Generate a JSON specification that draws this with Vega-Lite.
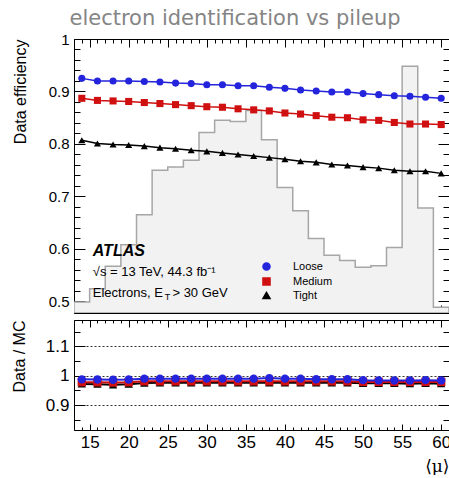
{
  "$schema": "https://vega.github.io/schema/vega-lite/v6.json",
  "padding": {"left": 10, "top": 7, "right": 0, "bottom": 0},
  "title": {"text": "electron identification vs pileup", "fontSize": 21, "font": "DejaVu Sans", "fontWeight": "normal", "color": "#858585", "anchor": "middle", "offset": 3, "dx": 4},
  "config": {
    "view": {"stroke": "#000", "strokeWidth": 1},
    "font": "Liberation Sans",
    "axis": {"domainColor": "#000", "tickColor": "#000", "labelColor": "#000", "titleColor": "#000", "grid": false, "titleFontWeight": "normal", "labelFont": "Liberation Sans", "titleFont": "Liberation Sans", "domainWidth": 1, "tickWidth": 1, "labelOverlap": false}
  },
  "datasets": {
    "hist": [
      {"edge": 13, "hist": 0.499}, {"edge": 15, "hist": 0.524}, {"edge": 17, "hist": 0.567}, {"edge": 19, "hist": 0.608},
      {"edge": 21, "hist": 0.665}, {"edge": 23, "hist": 0.750}, {"edge": 25, "hist": 0.756}, {"edge": 27, "hist": 0.769},
      {"edge": 29, "hist": 0.822}, {"edge": 31, "hist": 0.845}, {"edge": 33, "hist": 0.843}, {"edge": 35, "hist": 0.864},
      {"edge": 37, "hist": 0.808}, {"edge": 39, "hist": 0.717}, {"edge": 41, "hist": 0.673}, {"edge": 43, "hist": 0.620},
      {"edge": 45, "hist": 0.588}, {"edge": 47, "hist": 0.578}, {"edge": 49, "hist": 0.565}, {"edge": 51, "hist": 0.568},
      {"edge": 53, "hist": 0.603}, {"edge": 55, "hist": 0.948}, {"edge": 57, "hist": 0.678}, {"edge": 59, "hist": 0.489},
      {"edge": 61, "hist": 0.489}
    ],
    "eff": [
      {"mu": 14, "series": "Tight", "eff": 0.807, "ratio": 0.972},
      {"mu": 16, "series": "Tight", "eff": 0.801, "ratio": 0.971},
      {"mu": 18, "series": "Tight", "eff": 0.799, "ratio": 0.969},
      {"mu": 20, "series": "Tight", "eff": 0.798, "ratio": 0.971},
      {"mu": 22, "series": "Tight", "eff": 0.796, "ratio": 0.975},
      {"mu": 24, "series": "Tight", "eff": 0.793, "ratio": 0.976},
      {"mu": 26, "series": "Tight", "eff": 0.791, "ratio": 0.976},
      {"mu": 28, "series": "Tight", "eff": 0.788, "ratio": 0.976},
      {"mu": 30, "series": "Tight", "eff": 0.786, "ratio": 0.976},
      {"mu": 32, "series": "Tight", "eff": 0.783, "ratio": 0.976},
      {"mu": 34, "series": "Tight", "eff": 0.780, "ratio": 0.976},
      {"mu": 36, "series": "Tight", "eff": 0.777, "ratio": 0.976},
      {"mu": 38, "series": "Tight", "eff": 0.774, "ratio": 0.976},
      {"mu": 40, "series": "Tight", "eff": 0.771, "ratio": 0.976},
      {"mu": 42, "series": "Tight", "eff": 0.767, "ratio": 0.976},
      {"mu": 44, "series": "Tight", "eff": 0.765, "ratio": 0.976},
      {"mu": 46, "series": "Tight", "eff": 0.761, "ratio": 0.976},
      {"mu": 48, "series": "Tight", "eff": 0.759, "ratio": 0.976},
      {"mu": 50, "series": "Tight", "eff": 0.756, "ratio": 0.974},
      {"mu": 52, "series": "Tight", "eff": 0.754, "ratio": 0.974},
      {"mu": 54, "series": "Tight", "eff": 0.750, "ratio": 0.974},
      {"mu": 56, "series": "Tight", "eff": 0.748, "ratio": 0.973},
      {"mu": 58, "series": "Tight", "eff": 0.748, "ratio": 0.974},
      {"mu": 60, "series": "Tight", "eff": 0.744, "ratio": 0.973},
      {"mu": 14, "series": "Medium", "eff": 0.887, "ratio": 0.978},
      {"mu": 16, "series": "Medium", "eff": 0.883, "ratio": 0.978},
      {"mu": 18, "series": "Medium", "eff": 0.882, "ratio": 0.977},
      {"mu": 20, "series": "Medium", "eff": 0.881, "ratio": 0.978},
      {"mu": 22, "series": "Medium", "eff": 0.879, "ratio": 0.981},
      {"mu": 24, "series": "Medium", "eff": 0.877, "ratio": 0.981},
      {"mu": 26, "series": "Medium", "eff": 0.875, "ratio": 0.981},
      {"mu": 28, "series": "Medium", "eff": 0.873, "ratio": 0.981},
      {"mu": 30, "series": "Medium", "eff": 0.871, "ratio": 0.981},
      {"mu": 32, "series": "Medium", "eff": 0.870, "ratio": 0.981},
      {"mu": 34, "series": "Medium", "eff": 0.867, "ratio": 0.981},
      {"mu": 36, "series": "Medium", "eff": 0.865, "ratio": 0.981},
      {"mu": 38, "series": "Medium", "eff": 0.863, "ratio": 0.981},
      {"mu": 40, "series": "Medium", "eff": 0.859, "ratio": 0.981},
      {"mu": 42, "series": "Medium", "eff": 0.857, "ratio": 0.981},
      {"mu": 44, "series": "Medium", "eff": 0.854, "ratio": 0.981},
      {"mu": 46, "series": "Medium", "eff": 0.851, "ratio": 0.981},
      {"mu": 48, "series": "Medium", "eff": 0.850, "ratio": 0.981},
      {"mu": 50, "series": "Medium", "eff": 0.846, "ratio": 0.979},
      {"mu": 52, "series": "Medium", "eff": 0.845, "ratio": 0.979},
      {"mu": 54, "series": "Medium", "eff": 0.841, "ratio": 0.979},
      {"mu": 56, "series": "Medium", "eff": 0.838, "ratio": 0.979},
      {"mu": 58, "series": "Medium", "eff": 0.838, "ratio": 0.979},
      {"mu": 60, "series": "Medium", "eff": 0.837, "ratio": 0.979},
      {"mu": 14, "series": "Loose", "eff": 0.925, "ratio": 0.9876},
      {"mu": 16, "series": "Loose", "eff": 0.920, "ratio": 0.9873},
      {"mu": 18, "series": "Loose", "eff": 0.920, "ratio": 0.9865},
      {"mu": 20, "series": "Loose", "eff": 0.920, "ratio": 0.9873},
      {"mu": 22, "series": "Loose", "eff": 0.919, "ratio": 0.990},
      {"mu": 24, "series": "Loose", "eff": 0.918, "ratio": 0.990},
      {"mu": 26, "series": "Loose", "eff": 0.916, "ratio": 0.990},
      {"mu": 28, "series": "Loose", "eff": 0.915, "ratio": 0.990},
      {"mu": 30, "series": "Loose", "eff": 0.913, "ratio": 0.990},
      {"mu": 32, "series": "Loose", "eff": 0.913, "ratio": 0.990},
      {"mu": 34, "series": "Loose", "eff": 0.911, "ratio": 0.990},
      {"mu": 36, "series": "Loose", "eff": 0.911, "ratio": 0.990},
      {"mu": 38, "series": "Loose", "eff": 0.908, "ratio": 0.992},
      {"mu": 40, "series": "Loose", "eff": 0.906, "ratio": 0.990},
      {"mu": 42, "series": "Loose", "eff": 0.903, "ratio": 0.990},
      {"mu": 44, "series": "Loose", "eff": 0.901, "ratio": 0.988},
      {"mu": 46, "series": "Loose", "eff": 0.899, "ratio": 0.988},
      {"mu": 48, "series": "Loose", "eff": 0.899, "ratio": 0.988},
      {"mu": 50, "series": "Loose", "eff": 0.896, "ratio": 0.985},
      {"mu": 52, "series": "Loose", "eff": 0.894, "ratio": 0.984},
      {"mu": 54, "series": "Loose", "eff": 0.892, "ratio": 0.984},
      {"mu": 56, "series": "Loose", "eff": 0.891, "ratio": 0.984},
      {"mu": 58, "series": "Loose", "eff": 0.889, "ratio": 0.985},
      {"mu": 60, "series": "Loose", "eff": 0.887, "ratio": 0.984}
    ]
  },
  "spacing": 5,
  "vconcat": [
    {
      "width": 375,
      "height": 274,
      "layer": [
        {
          "layer": [
            {
              "data": {"name": "hist"},
              "mark": {"type": "area", "interpolate": "step-after", "fill": "#f2f2f2", "stroke": "#a6a6a6", "strokeWidth": 1.5, "clip": true},
              "encoding": {
                "x": {"field": "edge", "type": "quantitative", "scale": {"domain": [13, 61], "nice": false, "zero": false}, "axis": null},
                "y": {"field": "hist", "type": "quantitative", "scale": {"domain": [0.478, 1], "nice": false, "zero": false}, "axis": null},
                "y2": {"datum": 0.478}
              }
            },
            {
              "data": {"name": "eff"},
              "mark": {"type": "line", "strokeWidth": 1.5, "clip": true},
              "encoding": {
                "x": {"field": "mu", "type": "quantitative", "axis": null},
                "y": {"field": "eff", "type": "quantitative", "axis": null},
                "color": {"field": "series", "type": "nominal", "scale": {"domain": ["Loose", "Medium", "Tight"], "range": ["#2424dc", "#d01010", "#000000"]},
                  "legend": {"orient": "none", "legendX": 187, "legendY": 222, "title": null, "labelFontSize": 11, "labelFont": "Liberation Sans", "symbolSize": 50, "labelOffset": 21, "rowPadding": 0, "symbolOpacity": 1, "symbolStrokeWidth": 1.5}}
              }
            },
            {
              "data": {"name": "eff"},
              "mark": {"type": "point", "filled": true, "opacity": 1, "size": 50, "strokeWidth": 0, "clip": true},
              "encoding": {
                "x": {"field": "mu", "type": "quantitative", "axis": null},
                "y": {"field": "eff", "type": "quantitative", "axis": null},
                "shape": {"field": "series", "type": "nominal", "scale": {"domain": ["Loose", "Medium", "Tight"], "range": ["circle", "square", "triangle-up"]}, "legend": null},
                "fill": {"field": "series", "type": "nominal", "scale": {"domain": ["Loose", "Medium", "Tight"], "range": ["#2424dc", "#d01010", "#000000"]}, "legend": null}
              }
            },
            {
              "data": {"values": [{}]},
              "mark": {"type": "text", "text": "ATLAS", "font": "Liberation Sans", "fontSize": 16, "fontWeight": "bold", "fontStyle": "italic", "align": "left", "baseline": "middle"},
              "encoding": {"x": {"datum": 15.4, "type": "quantitative", "axis": null}, "y": {"datum": 0.597, "type": "quantitative", "axis": null}}
            },
            {
              "data": {"values": [{}]},
              "mark": {"type": "text", "text": "√s = 13 TeV, 44.3 fb⁻¹", "font": "Liberation Sans", "fontSize": 13, "align": "left", "baseline": "middle"},
              "encoding": {"x": {"datum": 15.4, "type": "quantitative", "axis": null}, "y": {"datum": 0.557, "type": "quantitative", "axis": null}}
            },
            {
              "data": {"values": [{}]},
              "mark": {"type": "text", "text": "Electrons, E", "font": "Liberation Sans", "fontSize": 13, "align": "left", "baseline": "middle"},
              "encoding": {"x": {"datum": 15.4, "type": "quantitative", "axis": null}, "y": {"datum": 0.517, "type": "quantitative", "axis": null}}
            },
            {
              "data": {"values": [{}]},
              "mark": {"type": "text", "text": "T", "font": "Liberation Sans", "fontSize": 9, "align": "left", "baseline": "middle"},
              "encoding": {"x": {"datum": 24.6, "type": "quantitative", "axis": null}, "y": {"datum": 0.508, "type": "quantitative", "axis": null}}
            },
            {
              "data": {"values": [{}]},
              "mark": {"type": "text", "text": "> 30 GeV", "font": "Liberation Sans", "fontSize": 13, "align": "left", "baseline": "middle"},
              "encoding": {"x": {"datum": 25.6, "type": "quantitative", "axis": null}, "y": {"datum": 0.517, "type": "quantitative", "axis": null}}
            }
          ]
        },
        {
          "data": {"name": "eff"},
          "transform": [{"filter": "false"}],
          "mark": {"type": "point", "opacity": 0},
          "encoding": {
            "x": {"field": "mu", "type": "quantitative",
              "axis": {"orient": "top", "values": [15,20,25,30,35,40,45,50,55,60], "labels": false, "title": null, "domain": false, "tickSize": 8, "offset": -8}},
            "y": {"field": "eff", "type": "quantitative",
              "axis": {"orient": "right", "values": [0.5,0.6,0.7,0.8,0.9,1], "labels": false, "title": null, "domain": false, "tickSize": 11, "offset": -11}}
          }
        },
        {
          "data": {"name": "eff"},
          "transform": [{"filter": "false"}],
          "mark": {"type": "point", "opacity": 0},
          "encoding": {
            "x": {"field": "mu", "type": "quantitative",
              "axis": {"orient": "top", "values": [13,14,16,17,18,19,21,22,23,24,26,27,28,29,31,32,33,34,36,37,38,39,41,42,43,44,46,47,48,49,51,52,53,54,56,57,58,59,61], "labels": false, "title": null, "domain": false, "tickSize": 4, "offset": -4}},
            "y": {"field": "eff", "type": "quantitative",
              "axis": {"orient": "right", "values": [0.48,0.52,0.54,0.56,0.58,0.62,0.64,0.66,0.68,0.72,0.74,0.76,0.78,0.82,0.84,0.86,0.88,0.92,0.94,0.96,0.98], "labels": false, "title": null, "domain": false, "tickSize": 6, "offset": -6}}
          }
        },
        {
          "data": {"name": "eff"},
          "transform": [{"filter": "false"}],
          "mark": {"type": "point", "opacity": 0},
          "encoding": {
            "x": {"field": "mu", "type": "quantitative",
              "axis": {"orient": "bottom", "values": [15,20,25,30,35,40,45,50,55,60], "labels": false, "title": null, "domain": false, "tickSize": 8, "offset": -8}},
            "y": {"field": "eff", "type": "quantitative",
              "axis": {"orient": "left", "values": [0.5,0.6,0.7,0.8,0.9,1], "labels": false, "title": null, "domain": false, "tickSize": 11, "offset": -11}}
          }
        },
        {
          "data": {"name": "eff"},
          "transform": [{"filter": "false"}],
          "mark": {"type": "point", "opacity": 0},
          "encoding": {
            "x": {"field": "mu", "type": "quantitative",
              "axis": {"orient": "bottom", "values": [13,14,16,17,18,19,21,22,23,24,26,27,28,29,31,32,33,34,36,37,38,39,41,42,43,44,46,47,48,49,51,52,53,54,56,57,58,59,61], "labels": false, "title": null, "domain": false, "tickSize": 4, "offset": -4}},
            "y": {"field": "eff", "type": "quantitative",
              "axis": {"orient": "left", "values": [0.48,0.52,0.54,0.56,0.58,0.62,0.64,0.66,0.68,0.72,0.74,0.76,0.78,0.82,0.84,0.86,0.88,0.92,0.94,0.96,0.98], "labels": false, "title": null, "domain": false, "tickSize": 6, "offset": -6}}
          }
        },
        {
          "data": {"name": "eff"},
          "transform": [{"filter": "false"}],
          "mark": {"type": "point", "opacity": 0},
          "encoding": {
            "x": {"field": "mu", "type": "quantitative", "axis": null},
            "y": {"field": "eff", "type": "quantitative",
              "axis": {"orient": "left", "values": [0.5, 0.6, 0.7, 0.8, 0.9, 1], "format": "~g", "ticks": false, "domain": false, "labelOverlap": false,
                "labelFontSize": 15, "labelPadding": 5,
                "title": "Data efficiency", "titleAnchor": "end", "titleFontSize": 16, "titlePadding": 20}}
          }
        }
      ],
      "resolve": {"axis": {"x": "independent", "y": "independent"}}
    },
    {
      "width": 375,
      "height": 110,
      "layer": [
        {
          "layer": [
            {
              "data": {"name": "eff"},
              "mark": {"type": "line", "strokeWidth": 2, "clip": true},
              "encoding": {
                "x": {"field": "mu", "type": "quantitative", "scale": {"domain": [13, 61], "nice": false, "zero": false}, "axis": null},
                "y": {"field": "ratio", "type": "quantitative", "scale": {"domain": [0.815, 1.19], "nice": false, "zero": false}, "axis": null},
                "color": {"field": "series", "type": "nominal", "scale": {"domain": ["Loose", "Medium", "Tight"], "range": ["#2424dc", "#d01010", "#000000"]}, "legend": null}
              }
            },
            {
              "data": {"name": "eff"},
              "mark": {"type": "point", "filled": true, "opacity": 1, "size": 70, "strokeWidth": 0, "clip": true},
              "encoding": {
                "x": {"field": "mu", "type": "quantitative", "axis": null},
                "y": {"field": "ratio", "type": "quantitative", "axis": null},
                "shape": {"field": "series", "type": "nominal", "scale": {"domain": ["Loose", "Medium", "Tight"], "range": ["circle", "square", "triangle-up"]}, "legend": null},
                "fill": {"field": "series", "type": "nominal", "scale": {"domain": ["Loose", "Medium", "Tight"], "range": ["#2424dc", "#d01010", "#000000"]}, "legend": null}
              }
            }
          ]
        },
        {
          "data": {"name": "eff"},
          "transform": [{"filter": "false"}],
          "mark": {"type": "point", "opacity": 0},
          "encoding": {
            "x": {"field": "mu", "type": "quantitative",
              "axis": {"orient": "top", "values": [15,20,25,30,35,40,45,50,55,60], "labels": false, "title": null, "domain": false, "tickSize": 7, "offset": -7}},
            "y": {"field": "ratio", "type": "quantitative",
              "axis": {"orient": "right", "values": [0.9, 1, 1.1], "labels": false, "title": null, "domain": false, "tickSize": 11, "offset": -11}}
          }
        },
        {
          "data": {"name": "eff"},
          "transform": [{"filter": "false"}],
          "mark": {"type": "point", "opacity": 0},
          "encoding": {
            "x": {"field": "mu", "type": "quantitative",
              "axis": {"orient": "top", "values": [13,14,16,17,18,19,21,22,23,24,26,27,28,29,31,32,33,34,36,37,38,39,41,42,43,44,46,47,48,49,51,52,53,54,56,57,58,59,61], "labels": false, "title": null, "domain": false, "tickSize": 3, "offset": -3}},
            "y": {"field": "ratio", "type": "quantitative",
              "axis": {"orient": "right", "values": [0.85, 0.95, 1.05, 1.15], "labels": false, "title": null, "domain": false, "tickSize": 6, "offset": -6}}
          }
        },
        {
          "data": {"name": "eff"},
          "transform": [{"filter": "false"}],
          "mark": {"type": "point", "opacity": 0},
          "encoding": {
            "x": {"field": "mu", "type": "quantitative",
              "axis": {"orient": "bottom", "values": [15,20,25,30,35,40,45,50,55,60], "labels": false, "title": null, "domain": false, "tickSize": 6, "offset": -6}},
            "y": {"field": "ratio", "type": "quantitative",
              "axis": {"orient": "left", "values": [0.9, 1, 1.1], "labels": false, "title": null, "domain": false, "tickSize": 11, "offset": -11}}
          }
        },
        {
          "data": {"name": "eff"},
          "transform": [{"filter": "false"}],
          "mark": {"type": "point", "opacity": 0},
          "encoding": {
            "x": {"field": "mu", "type": "quantitative",
              "axis": {"orient": "bottom", "values": [13,14,16,17,18,19,21,22,23,24,26,27,28,29,31,32,33,34,36,37,38,39,41,42,43,44,46,47,48,49,51,52,53,54,56,57,58,59,61], "labels": false, "title": null, "domain": false, "tickSize": 3, "offset": -3}},
            "y": {"field": "ratio", "type": "quantitative",
              "axis": {"orient": "left", "values": [0.85, 0.95, 1.05, 1.15], "labels": false, "title": null, "domain": false, "tickSize": 6, "offset": -6}}
          }
        },
        {
          "data": {"name": "eff"},
          "transform": [{"filter": "false"}],
          "mark": {"type": "point", "opacity": 0},
          "encoding": {
            "x": {"field": "mu", "type": "quantitative",
              "axis": {"orient": "bottom", "values": [15, 20, 25, 30, 35, 40, 45, 50, 55, 60], "format": "~g", "ticks": false, "domain": false, "labelOverlap": false,
                "labelFontSize": 17, "labelPadding": 4,
                "title": "⟨μ⟩", "titleAnchor": "end", "titleFontSize": 17, "titlePadding": 8, "titleFont": "DejaVu Serif"}},
            "y": {"field": "ratio", "type": "quantitative",
              "axis": {"orient": "left", "values": [0.9, 1, 1.1], "format": "~g", "ticks": false, "domain": false, "labelOverlap": false,
                "grid": true, "gridColor": "#333", "gridDash": [2, 2], "gridWidth": 1,
                "labelFontSize": 17, "labelPadding": 5,
                "title": "Data / MC", "titleAnchor": "end", "titleFontSize": 16, "titlePadding": 18}}
          }
        }
      ],
      "resolve": {"axis": {"x": "independent", "y": "independent"}}
    }
  ]
}
